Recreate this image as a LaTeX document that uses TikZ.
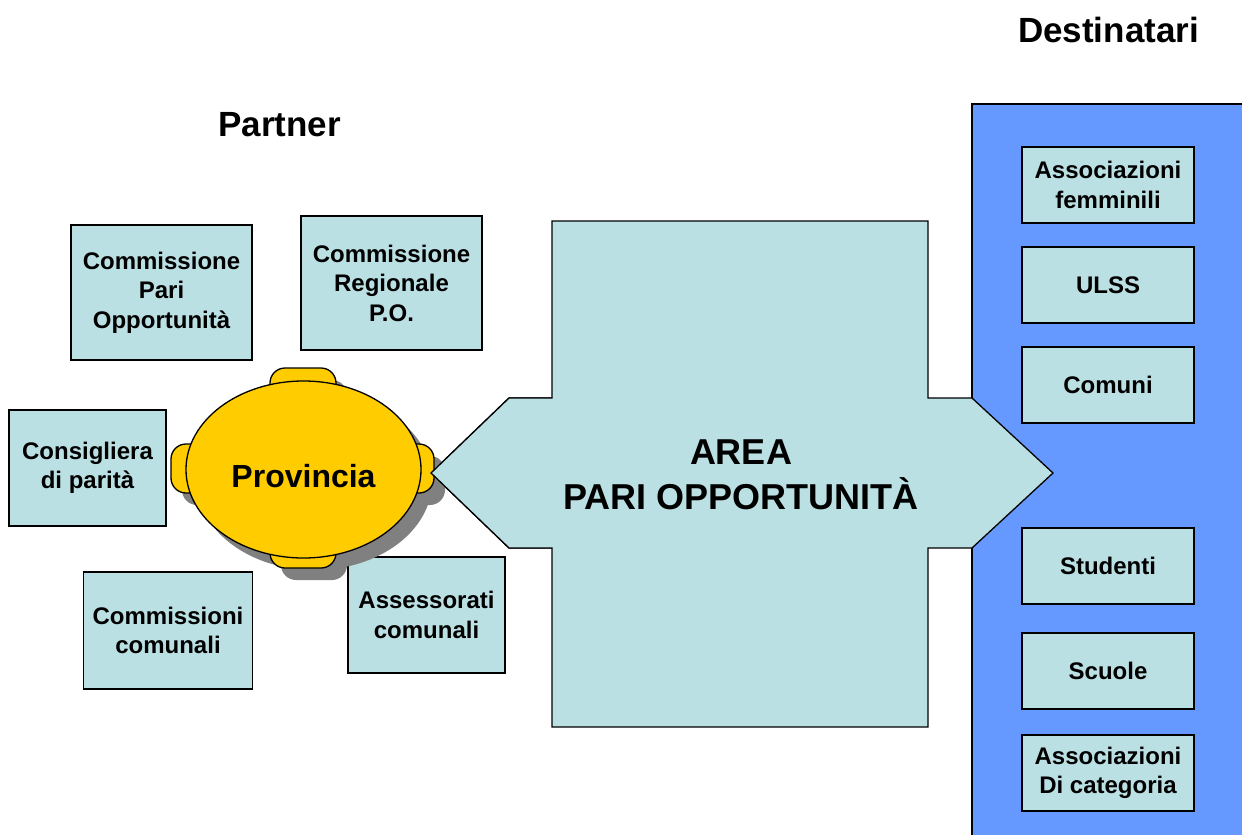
\documentclass[tikz,border=0pt]{standalone}
\usepackage{fontspec}
\setmainfont{Liberation Sans}
\usetikzlibrary{shapes.geometric}
\definecolor{azzurro}{HTML}{BBE0E3}
\definecolor{blu}{HTML}{6699FF}
\definecolor{giallo}{HTML}{FFCC00}
\definecolor{ombra}{HTML}{808080}
\def\ovale{(303.5,469.5) ellipse (117.5 and 88.5)}
\def\manicosu{(270,368) rectangle (336,400)}
\def\manicogiu{(270,539) rectangle (336,568)}
\def\manicosx{(171,444) rectangle (205,493)}
\def\manicodx{(402,444) rectangle (434,493)}
\def\pannello{(972,104) rectangle (1260,860)}
\def\freccia{(431,473) -- (509,398) -- (552,398) -- (552,221) -- (928,221) -- (928,398) -- (972,398) -- (1053,473) -- (972,548) -- (928,548) -- (928,727) -- (552,727) -- (552,548) -- (509,548) -- cycle}
\tikzset{
  casella/.style={draw, fill=azzurro, line width=1.3pt, align=center, inner sep=0pt,
    font=\bfseries\fontsize{24}{29.5}\selectfont},
  titolo/.style={font=\bfseries\fontsize{35}{42}\selectfont, inner sep=0pt},
}

\begin{document}
\begin{tikzpicture}[x=1pt,y=-1pt,line width=1.3pt]
  \useasboundingbox (0,0) rectangle (1242,835);
  \clip (0,0) rectangle (1242,835);
  % titoli
  \node[titolo] (partner) at (279.5,124.5) {Partner};
  \node[titolo] (destinatari) at (1108.5,30) {Destinatari};
  % destinatari
  \fill[blu] \pannello;
  \draw \pannello;
  \fill[azzurro] \freccia;
  \draw[line join=miter] \freccia;
  \node[font=\bfseries\fontsize{36}{44.6}\selectfont, align=center, inner sep=0pt] (area) at (741,475) {AREA\\PARI OPPORTUNITÀ};
  \node[casella, minimum width=172, minimum height=76] (assfem) at (1108,185) {Associazioni\\femminili};
  \node[casella, minimum width=172, minimum height=76] (ulss) at (1108,285) {ULSS};
  \node[casella, minimum width=172, minimum height=76] (comuni) at (1108,385) {Comuni};
  \node[casella, minimum width=172, minimum height=76] (studenti) at (1108,566) {Studenti};
  \node[casella, minimum width=172, minimum height=76] (scuole) at (1108,671) {Scuole};
  \node[casella, minimum width=172, minimum height=76] (asscat) at (1108,773) {Associazioni\\Di categoria};
  % partner
  \node[casella, minimum width=181, minimum height=135] (cpo) at (161.5,292.5) {Commissione\\Pari\\Opportunità};
  \node[casella, minimum width=181, minimum height=134] (creg) at (391.5,283) {Commissione\\Regionale\\P.O.};
  \node[casella, minimum width=157, minimum height=116] (cons) at (87.5,468) {Consigliera\\di parità};
  \node[casella, minimum width=169, minimum height=117] (ccom) at (168,630.5) {Commissioni\\comunali};
  \node[casella, minimum width=157, minimum height=116] (ass) at (426.5,615) {Assessorati\\comunali};
  % provincia con ombra
  \begin{scope}[shift={(11,12)}]
    \fill[ombra, rounded corners=15pt] \manicosu \manicogiu \manicosx \manicodx;
    \fill[ombra] \ovale;
  \end{scope}
  \filldraw[fill=giallo, rounded corners=15pt] \manicosu \manicogiu \manicosx \manicodx;
  \node[ellipse, draw, fill=giallo, minimum width=235, minimum height=177, inner sep=0pt] (prov) at (303.5,469.5) {};
  \node[font=\bfseries\fontsize{32}{38}\selectfont, inner sep=0pt] (provtxt) at (303.5,476) {Provincia};
  % punta sinistra sopra il manico
  \fill[azzurro] (431,473) -- (509,398) -- (552,398) -- (552,548) -- (509,548) -- cycle;
  \draw (552,398) -- (509,398) -- (431,473) -- (509,548) -- (552,548);
\end{tikzpicture}
\end{document}
